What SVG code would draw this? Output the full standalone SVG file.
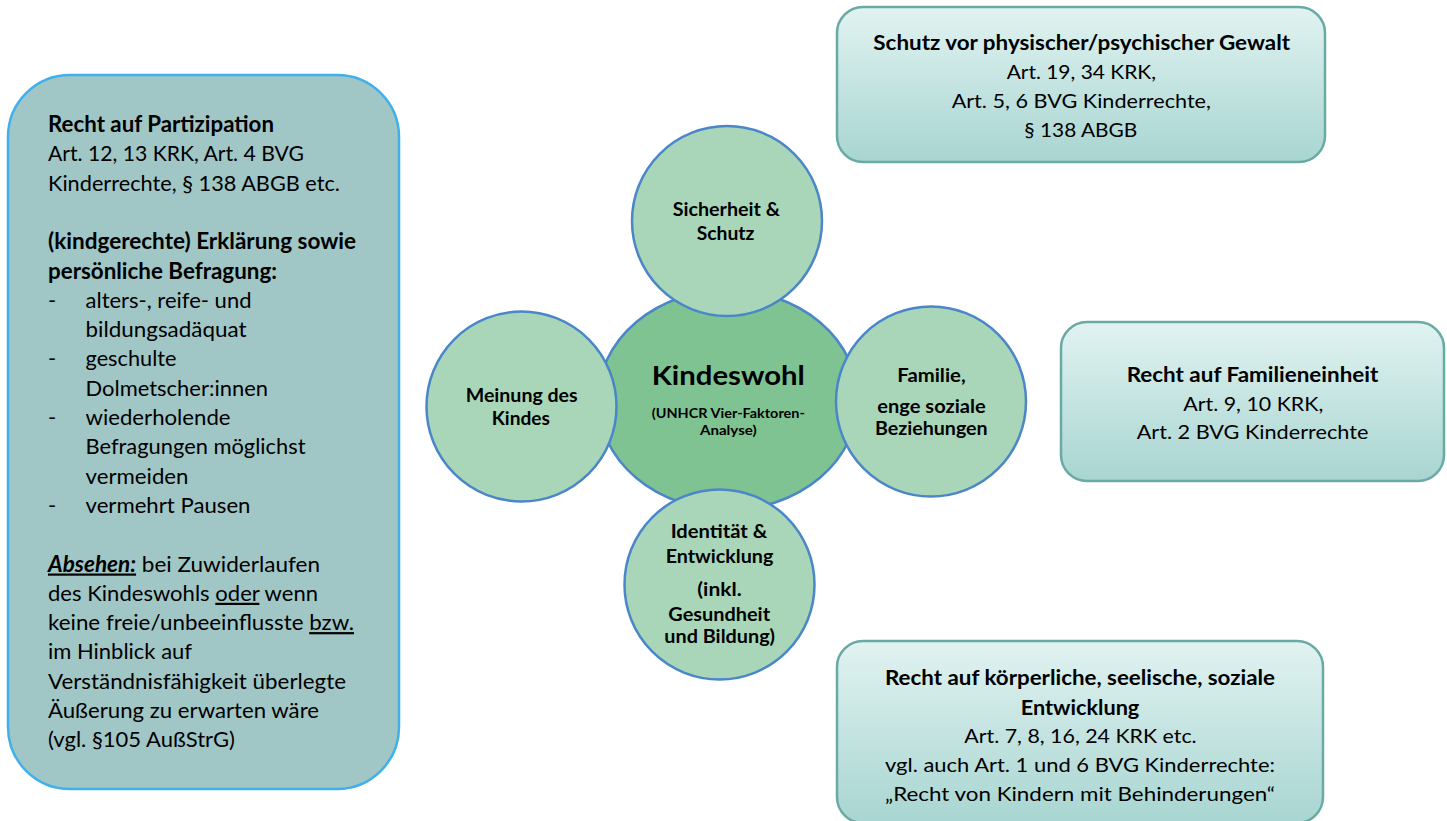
<svg xmlns="http://www.w3.org/2000/svg" width="1447" height="821" viewBox="0 0 1447 821">
<defs>
<linearGradient id="boxGrad" x1="0" y1="0" x2="0" y2="1">
<stop offset="0" stop-color="#e1f3f1"/>
<stop offset="1" stop-color="#a8d5d1"/>
</linearGradient>
<style>
text{font-family:Lato,"Liberation Sans",sans-serif;fill:#000;}
.b{font-weight:bold;}
.body{font-size:22px;}
.rbox{fill:url(#boxGrad);stroke:#6aaaa4;stroke-width:2.5;}
.circ{fill:#a9d6b8;stroke:#4a86c8;stroke-width:2.5;}
.ctr{fill:#80c392;stroke:#4a86c8;stroke-width:2.5;}
.ct{font-size:19.5px;font-weight:bold;text-anchor:middle;}
.rt{font-size:20px;text-anchor:middle;}
.u{text-decoration:underline;}
</style>
</defs>
<rect width="1447" height="821" fill="#fff"/>

<g id="connectors"></g>

<g id="participation">
<rect x="8" y="75" width="391" height="714" rx="62" ry="62" fill="#a1c6c6" stroke="#40b0ec" stroke-width="2.5"/>
<text class="body b" x="48" y="132" textLength="226" lengthAdjust="spacingAndGlyphs">Recht auf Partizipation</text>
<text class="body" x="48" y="161.3" textLength="256" lengthAdjust="spacingAndGlyphs">Art. 12, 13 KRK, Art. 4 BVG</text>
<text class="body" x="48" y="190.6" textLength="292" lengthAdjust="spacingAndGlyphs">Kinderrechte, § 138 ABGB etc.</text>
<text class="body b" x="48" y="249.2" textLength="308" lengthAdjust="spacingAndGlyphs">(kindgerechte) Erklärung sowie</text>
<text class="body b" x="48" y="278.5" textLength="229" lengthAdjust="spacingAndGlyphs">persönliche Befragung:</text>
<text class="body" x="48" y="307.8">-</text>
<text class="body" x="85.5" y="307.8" textLength="166" lengthAdjust="spacingAndGlyphs">alters-, reife- und</text>
<text class="body" x="85.5" y="337.1" textLength="161" lengthAdjust="spacingAndGlyphs">bildungsadäquat</text>
<text class="body" x="48" y="366.4">-</text>
<text class="body" x="85.5" y="366.4" textLength="91" lengthAdjust="spacingAndGlyphs">geschulte</text>
<text class="body" x="85.5" y="395.7" textLength="182.5" lengthAdjust="spacingAndGlyphs">Dolmetscher:innen</text>
<text class="body" x="48" y="425">-</text>
<text class="body" x="85.5" y="425" textLength="145" lengthAdjust="spacingAndGlyphs">wiederholende</text>
<text class="body" x="85.5" y="454.3" textLength="220" lengthAdjust="spacingAndGlyphs">Befragungen möglichst</text>
<text class="body" x="85.5" y="483.6" textLength="103" lengthAdjust="spacingAndGlyphs">vermeiden</text>
<text class="body" x="48" y="512.9">-</text>
<text class="body" x="85.5" y="512.9" textLength="165" lengthAdjust="spacingAndGlyphs">vermehrt Pausen</text>
<text class="body" x="48" y="571.5" textLength="272" lengthAdjust="spacingAndGlyphs"><tspan class="b u" font-style="italic">Absehen:</tspan> bei Zuwiderlaufen</text>
<text class="body" x="48" y="600.8" textLength="270" lengthAdjust="spacingAndGlyphs">des Kindeswohls <tspan class="u">oder</tspan> wenn</text>
<text class="body" x="48" y="630.1" textLength="306" lengthAdjust="spacingAndGlyphs">keine freie/unbeeinflusste <tspan class="u">bzw.</tspan></text>
<text class="body" x="48" y="659.4" textLength="144" lengthAdjust="spacingAndGlyphs">im Hinblick auf</text>
<text class="body" x="48" y="688.7" textLength="298" lengthAdjust="spacingAndGlyphs">Verständnisfähigkeit überlegte</text>
<text class="body" x="48" y="718" textLength="271" lengthAdjust="spacingAndGlyphs">Äußerung zu erwarten wäre</text>
<text class="body" x="48" y="747.3" textLength="187" lengthAdjust="spacingAndGlyphs">(vgl. §105 AußStrG)</text>
</g>

<g id="kindeswohl">
<ellipse class="ctr" cx="728" cy="400" rx="130" ry="110"/>
<text x="728.3" y="385" font-size="27" font-weight="bold" text-anchor="middle" textLength="153" lengthAdjust="spacingAndGlyphs">Kindeswohl</text>
<text x="728.3" y="418" font-size="13" font-weight="bold" text-anchor="middle" textLength="153" lengthAdjust="spacingAndGlyphs">(UNHCR Vier-Faktoren-</text>
<text x="728.3" y="435" font-size="13" font-weight="bold" text-anchor="middle" textLength="56.7" lengthAdjust="spacingAndGlyphs">Analyse)</text>
</g>

<g id="sicherheit">
<circle class="circ" cx="727" cy="221" r="95"/>
<text class="ct" x="726.3" y="216" textLength="107.3" lengthAdjust="spacingAndGlyphs">Sicherheit &amp;</text>
<text class="ct" x="725.5" y="240" textLength="57.7" lengthAdjust="spacingAndGlyphs">Schutz</text>
</g>

<g id="meinung">
<circle class="circ" cx="521.5" cy="406.5" r="95"/>
<text class="ct" x="521.7" y="402" textLength="112" lengthAdjust="spacingAndGlyphs">Meinung des</text>
<text class="ct" x="520.8" y="425" textLength="58.3" lengthAdjust="spacingAndGlyphs">Kindes</text>
</g>

<g id="familie">
<circle class="circ" cx="931" cy="401.5" r="95"/>
<text class="ct" x="931.5" y="382" textLength="68.3" lengthAdjust="spacingAndGlyphs">Familie,</text>
<text class="ct" x="931.5" y="413" textLength="108.3" lengthAdjust="spacingAndGlyphs">enge soziale</text>
<text class="ct" x="931.3" y="435" textLength="112.7" lengthAdjust="spacingAndGlyphs">Beziehungen</text>
</g>

<g id="identitaet">
<circle class="circ" cx="719.5" cy="584.5" r="95"/>
<text class="ct" x="719" y="538" textLength="96.7" lengthAdjust="spacingAndGlyphs">Identität &amp;</text>
<text class="ct" x="719.5" y="563" textLength="107.7" lengthAdjust="spacingAndGlyphs">Entwicklung</text>
<text class="ct" x="719.5" y="596" textLength="44.3" lengthAdjust="spacingAndGlyphs">(inkl.</text>
<text class="ct" x="719.2" y="620.5" textLength="101.7" lengthAdjust="spacingAndGlyphs">Gesundheit</text>
<text class="ct" x="719.7" y="643" textLength="110.7" lengthAdjust="spacingAndGlyphs">und Bildung)</text>
</g>

<g id="schutz-gewalt">
<rect class="rbox" x="837" y="7" width="488" height="155" rx="26" ry="26"/>
<text class="rt b" x="1081.7" y="50" textLength="416.7" lengthAdjust="spacingAndGlyphs">Schutz vor physischer/psychischer Gewalt</text>
<text class="rt" x="1081.3" y="79" textLength="149.3" lengthAdjust="spacingAndGlyphs">Art. 19, 34 KRK,</text>
<text class="rt" x="1081.3" y="108" textLength="259.3" lengthAdjust="spacingAndGlyphs">Art. 5, 6 BVG Kinderrechte,</text>
<text class="rt" x="1080.8" y="137" textLength="113" lengthAdjust="spacingAndGlyphs">§ 138 ABGB</text>
</g>

<g id="familieneinheit">
<rect class="rbox" x="1061" y="322" width="383" height="159" rx="26" ry="26"/>
<text class="rt b" x="1252.5" y="382" textLength="251.7" lengthAdjust="spacingAndGlyphs">Recht auf Familieneinheit</text>
<text class="rt" x="1253.3" y="411" textLength="140" lengthAdjust="spacingAndGlyphs">Art. 9, 10 KRK,</text>
<text class="rt" x="1252.5" y="439" textLength="231.7" lengthAdjust="spacingAndGlyphs">Art. 2 BVG Kinderrechte</text>
</g>

<g id="entwicklung">
<rect class="rbox" x="837" y="641" width="486" height="182" rx="26" ry="26"/>
<text class="rt b" x="1080" y="685" textLength="390" lengthAdjust="spacingAndGlyphs">Recht auf körperliche, seelische, soziale</text>
<text class="rt b" x="1080" y="715" textLength="118.7" lengthAdjust="spacingAndGlyphs">Entwicklung</text>
<text class="rt" x="1080.5" y="743" textLength="232.3" lengthAdjust="spacingAndGlyphs">Art. 7, 8, 16, 24 KRK etc.</text>
<text class="rt" x="1080" y="772" textLength="390" lengthAdjust="spacingAndGlyphs">vgl. auch Art. 1 und 6 BVG Kinderrechte:</text>
<text class="rt" x="1080" y="801" textLength="390" lengthAdjust="spacingAndGlyphs">„Recht von Kindern mit Behinderungen“</text>
</g>
</svg>
